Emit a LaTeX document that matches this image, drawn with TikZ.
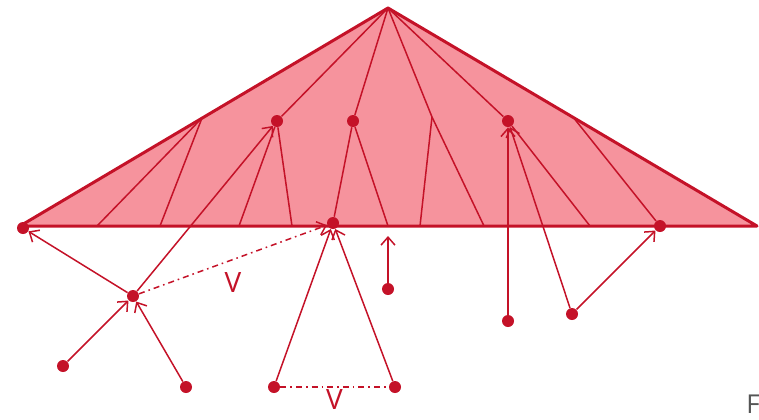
\documentclass[tikz,border=0pt]{standalone}
\usepackage{fontspec}
\setsansfont{Open Sans}
\usetikzlibrary{arrows.meta}
\definecolor{crim}{RGB}{196,18,40}
\definecolor{rose}{RGB}{246,147,157}
\definecolor{inkgrey}{RGB}{85,85,85}
\tikzset{
  dot/.style={circle,fill=crim,inner sep=0pt,minimum size=6pt},
  thin line/.style={crim,line width=0.75pt},
  arr/.style={thin line,-{Straight Barb[length=4pt,width=7pt]}},
  dashdot/.style={dash pattern=on 3pt off 2pt on 0.8pt off 2pt},
  vlabel/.style={text=crim,font=\sffamily\fontsize{14}{16}\selectfont},
}

\begin{document}
\begin{tikzpicture}[x=0.5pt,y=-0.5pt]
    \useasboundingbox (0,0) rectangle (759,419);
    \coordinate (top) at (388,8);
    \coordinate (left) at (20,226);
    \coordinate (right) at (757,226);
    \fill[rose] (left) -- (top) -- (right) -- cycle;
    % points on the edges
    \coordinate (el) at (202,118);
    \coordinate (em) at (432,117);
    \coordinate (er) at (573,117);
    \coordinate (b1) at (97,226);
    \coordinate (b2) at (160,226);
    \coordinate (b3) at (239,226);
    \coordinate (b4) at (292,226);
    \coordinate (b5) at (388,226);
    \coordinate (b6) at (420,226);
    \coordinate (b7) at (484,226);
    \coordinate (b8) at (590,226);
    % dots
    \node[dot] (p1) at (277,121) {};
    \node[dot] (p2) at (353,121) {};
    \node[dot] (p3) at (508,121) {};
    \node[dot] (ql) at (23,228) {};
    \node[dot] (qm) at (333,223) {};
    \node[dot] (qr) at (660,226) {};
    \node[dot] (u) at (133,296) {};
    \node[dot] (s1) at (63,366) {};
    \node[dot] (s2) at (186,387) {};
    \node[dot] (s3) at (274,387) {};
    \node[dot] (s4) at (395,387) {};
    \node[dot] (s5) at (388,289) {};
    \node[dot] (s6) at (508,321) {};
    \node[dot] (s7) at (572,314) {};
    \coordinate (tip) at (388,236);
    % lines inside the triangle
    \draw[thin line] (el) -- (b1);
    \draw[thin line] (el) -- (b2);
    \draw[thin line] (top) -- (p1);
    \draw[thin line] (p1) -- (b3);
    \draw[thin line] (p1) -- (b4);
    \draw[thin line] (top) -- (p2);
    \draw[thin line] (p2) -- (qm);
    \draw[thin line] (p2) -- (b5);
    \draw[thin line] (top) -- (em) -- (b7);
    \draw[thin line] (em) -- (b6);
    \draw[thin line] (top) -- (p3);
    \draw[thin line] (p3) -- (b8);
    \draw[thin line] (er) -- (qr);
    \draw[crim,line width=1.5pt,line join=round] (left) -- (top) -- (right) -- cycle;
    % arrows
    \draw[arr] (u) -- (ql);
    \draw[arr] (u) -- (p1);
    \draw[arr] (s1) -- (u);
    \draw[arr] (s2) -- (u);
    \draw[arr,dashdot] (u) -- node[vlabel,pos=0.5,below=3pt]{V} (qm);
    \draw[arr] (s3) -- (qm);
    \draw[arr] (s4) -- (qm);
    \draw[thin line,dashdot] (s3) -- node[vlabel,below=0pt,inner sep=1pt]{V} (s4);
    \draw[arr] (s5) -- (tip);
    \draw[arr] (s6) -- (p3);
    \draw[arr] (s7) -- (p3);
    \draw[arr] (s7) -- (qr);
    \node[anchor=west,inner sep=0pt,text=inkgrey,font=\sffamily\fontsize{13}{15}\selectfont] (f) at (746,404) {F};
\end{tikzpicture}
\end{document}
